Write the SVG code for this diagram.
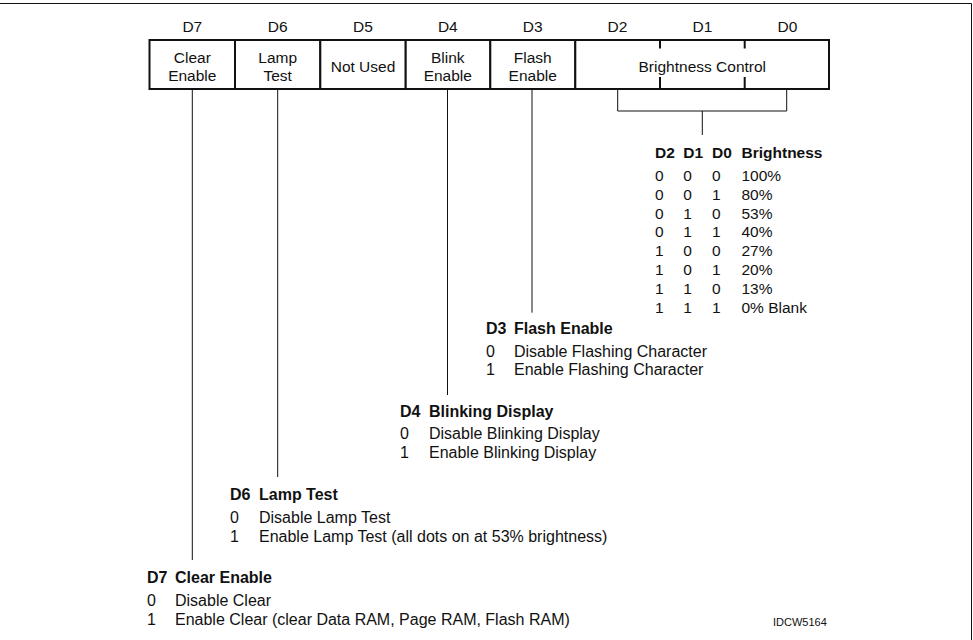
<svg xmlns="http://www.w3.org/2000/svg" width="973" height="640" viewBox="0 0 973 640">
<style>
text{font-family:"Liberation Sans",Arial,sans-serif;font-size:15.5px;fill:#111}
.d{font-size:16px}
.b{font-weight:bold}
.m{text-anchor:middle}
.box{fill:#fff;stroke:#111;stroke-width:2}
.ln{stroke:#111;stroke-width:1;fill:none}
.tk{stroke:#111;stroke-width:2}
.sm{font-size:11px}
</style>
<rect width="973" height="640" fill="#fff"/>
<g id="frame"><path d="M0 3.5H971.5V640" class="ln" stroke-width="1.5"/></g>
<g id="bit-labels">
<text x="192.3" y="31.5" class="m">D7</text>
<text x="277.7" y="31.5" class="m">D6</text>
<text x="363" y="31.5" class="m">D5</text>
<text x="447.8" y="31.5" class="m">D4</text>
<text x="532.7" y="31.5" class="m">D3</text>
<text x="617.5" y="31.5" class="m">D2</text>
<text x="702.5" y="31.5" class="m">D1</text>
<text x="787.5" y="31.5" class="m">D0</text>
</g>
<g id="cell-d7"><rect x="149.5" y="40" width="85.5" height="49" class="box"/><text x="192.3" y="62.5" class="m">Clear</text><text x="192.3" y="81" class="m">Enable</text></g>
<g id="cell-d6"><rect x="235" y="40" width="85.3" height="49" class="box"/><text x="277.7" y="62.5" class="m">Lamp</text><text x="277.7" y="81" class="m">Test</text></g>
<g id="cell-d5"><rect x="320.3" y="40" width="85.4" height="49" class="box"/><text x="363" y="71.5" class="m">Not Used</text></g>
<g id="cell-d4"><rect x="405.7" y="40" width="84.6" height="49" class="box"/><text x="447.8" y="62.5" class="m">Blink</text><text x="447.8" y="81" class="m">Enable</text></g>
<g id="cell-d3"><rect x="490.3" y="40" width="85" height="49" class="box"/><text x="532.7" y="62.5" class="m">Flash</text><text x="532.7" y="81" class="m">Enable</text></g>
<g id="cell-brightness"><rect x="575.3" y="40" width="253.7" height="49" class="box"/>
<path d="M660 40V48.5M660 77V89M744.7 40V48.5M744.7 77V89" class="tk"/>
<text x="702.3" y="71.5" class="m">Brightness Control</text></g>
<g id="connectors">
<path d="M192.3 89V560M277.7 89V477M447.5 89V395M532 89V312.7" class="ln"/>
<path d="M617.7 89V111H786.7V89M702.3 111V135" class="ln"/>
</g>
<g id="brightness-table">
<text x="655" y="158" class="b">D2</text><text x="683.3" y="158" class="b">D1</text><text x="712" y="158" class="b">D0</text><text x="741.5" y="158" class="b">Brightness</text>
<g>
<text x="655" y="181">0</text><text x="683.3" y="181">0</text><text x="712" y="181">0</text><text x="741.5" y="181">100%</text>
<text x="655" y="199.8">0</text><text x="683.3" y="199.8">0</text><text x="712" y="199.8">1</text><text x="741.5" y="199.8">80%</text>
<text x="655" y="218.6">0</text><text x="683.3" y="218.6">1</text><text x="712" y="218.6">0</text><text x="741.5" y="218.6">53%</text>
<text x="655" y="237.4">0</text><text x="683.3" y="237.4">1</text><text x="712" y="237.4">1</text><text x="741.5" y="237.4">40%</text>
<text x="655" y="256.2">1</text><text x="683.3" y="256.2">0</text><text x="712" y="256.2">0</text><text x="741.5" y="256.2">27%</text>
<text x="655" y="275">1</text><text x="683.3" y="275">0</text><text x="712" y="275">1</text><text x="741.5" y="275">20%</text>
<text x="655" y="293.8">1</text><text x="683.3" y="293.8">1</text><text x="712" y="293.8">0</text><text x="741.5" y="293.8">13%</text>
<text x="655" y="312.6">1</text><text x="683.3" y="312.6">1</text><text x="712" y="312.6">1</text><text x="741.5" y="312.6">0% Blank</text>
</g>
</g>
<g id="desc-d3" class="d">
<text x="486" y="334" class="b d">D3</text><text x="514" y="334" class="b d">Flash Enable</text>
<text x="486" y="356.5" class="d">0</text><text x="514" y="356.5" class="d">Disable Flashing Character</text>
<text x="486" y="375" class="d">1</text><text x="514" y="375" class="d">Enable Flashing Character</text>
</g>
<g id="desc-d4">
<text x="400" y="416.5" class="b d">D4</text><text x="429" y="416.5" class="b d">Blinking Display</text>
<text x="400" y="439" class="d">0</text><text x="429" y="439" class="d">Disable Blinking Display</text>
<text x="400" y="457.5" class="d">1</text><text x="429" y="457.5" class="d">Enable Blinking Display</text>
</g>
<g id="desc-d6">
<text x="230" y="500" class="b d">D6</text><text x="259" y="500" class="b d">Lamp Test</text>
<text x="230" y="523" class="d">0</text><text x="259" y="523" class="d">Disable Lamp Test</text>
<text x="230" y="542" class="d">1</text><text x="259" y="542" class="d">Enable Lamp Test (all dots on at 53% brightness)</text>
</g>
<g id="desc-d7">
<text x="147" y="582.5" class="b d">D7</text><text x="175" y="582.5" class="b d">Clear Enable</text>
<text x="147" y="605.5" class="d">0</text><text x="175" y="605.5" class="d">Disable Clear</text>
<text x="147" y="624.5" class="d">1</text><text x="175" y="624.5" class="d">Enable Clear (clear Data RAM, Page RAM, Flash RAM)</text>
</g>
<text x="773" y="625.5" class="sm">IDCW5164</text>
</svg>
